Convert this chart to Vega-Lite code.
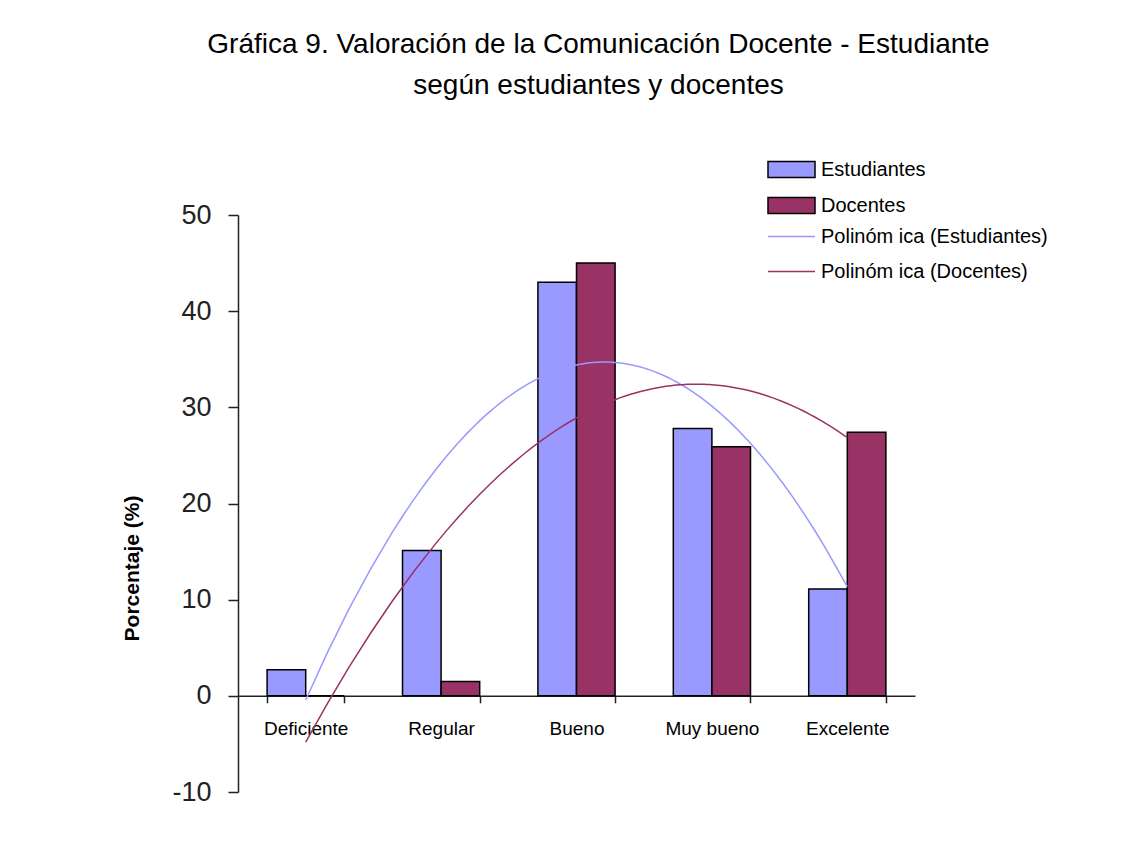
{
  "$schema": "https://vega.github.io/schema/vega-lite/v6.json",
  "width": 677,
  "height": 577,
  "autosize": {"type": "none"},
  "padding": {"left": 238, "top": 215, "right": 223, "bottom": 75},
  "background": "white",
  "config": {"view": {"stroke": null}, "font": "Liberation Sans"},
  "title": {
    "text": ["Gráfica 9. Valoración de la Comunicación Docente - Estudiante", "según  estudiantes y docentes"],
    "fontSize": 28,
    "fontWeight": "normal",
    "lineHeight": 41,
    "anchor": "middle",
    "frame": "group",
    "dx": 22,
    "offset": 45,
    "color": "black"
  },
  "data": {
    "values": [
      {"categoria": "Deficiente", "orden": 1, "serie": "Estudiantes", "tendencia": "Polinóm ica (Estudiantes)", "valor": 2.7},
      {"categoria": "Regular", "orden": 2, "serie": "Estudiantes", "tendencia": "Polinóm ica (Estudiantes)", "valor": 15.1},
      {"categoria": "Bueno", "orden": 3, "serie": "Estudiantes", "tendencia": "Polinóm ica (Estudiantes)", "valor": 43.0},
      {"categoria": "Muy bueno", "orden": 4, "serie": "Estudiantes", "tendencia": "Polinóm ica (Estudiantes)", "valor": 27.8},
      {"categoria": "Excelente", "orden": 5, "serie": "Estudiantes", "tendencia": "Polinóm ica (Estudiantes)", "valor": 11.1},
      {"categoria": "Deficiente", "orden": 1, "serie": "Docentes", "tendencia": "Polinóm ica (Docentes)", "valor": 0},
      {"categoria": "Regular", "orden": 2, "serie": "Docentes", "tendencia": "Polinóm ica (Docentes)", "valor": 1.5},
      {"categoria": "Bueno", "orden": 3, "serie": "Docentes", "tendencia": "Polinóm ica (Docentes)", "valor": 45.0},
      {"categoria": "Muy bueno", "orden": 4, "serie": "Docentes", "tendencia": "Polinóm ica (Docentes)", "valor": 25.9},
      {"categoria": "Excelente", "orden": 5, "serie": "Docentes", "tendencia": "Polinóm ica (Docentes)", "valor": 27.4}
    ]
  },
  "layer": [
    {
      "mark": {"type": "bar", "stroke": "black", "strokeWidth": 1.5},
      "encoding": {
        "x": {
          "field": "categoria",
          "type": "nominal",
          "sort": ["Deficiente", "Regular", "Bueno", "Muy bueno", "Excelente"],
          "scale": {"paddingInner": 0.43, "paddingOuter": 0.215},
          "axis": {
            "orient": "bottom",
            "offset": -96.2,
            "title": null,
            "labelAngle": 0,
            "labelFontSize": 19,
            "labelPadding": 17,
            "labelColor": "black",
            "tickBand": "extent",
            "tickSize": 7,
            "tickWidth": 1.5,
            "tickColor": "#222",
            "domainWidth": 1.5,
            "domainColor": "#222",
            "grid": false
          }
        },
        "xOffset": {
          "field": "serie",
          "type": "nominal",
          "sort": ["Estudiantes", "Docentes"],
          "scale": {"paddingInner": 0, "paddingOuter": 0}
        },
        "y": {
          "field": "valor",
          "type": "quantitative",
          "scale": {"domain": [-10, 50], "nice": false},
          "axis": {
            "values": [-10, 0, 10, 20, 30, 40, 50],
            "labelExpr": "'' + datum.value",
            "grid": false,
            "domainColor": "#222",
            "domainWidth": 1.5,
            "tickColor": "#222",
            "tickWidth": 1.5,
            "tickSize": 10,
            "labelFontSize": 27,
            "labelPadding": 17,
            "labelColor": "#222",
            "title": "Porcentaje (%)",
            "titleFontSize": 21,
            "titleFontWeight": "bold",
            "titleColor": "black",
            "titleX": -96,
            "titleY": 353,
            "titleBaseline": "bottom",
            "titleAlign": "center",
            "titleAngle": -90
          }
        },
        "fill": {
          "field": "serie",
          "type": "nominal",
          "scale": {"domain": ["Estudiantes", "Docentes"], "range": ["#9999FF", "#993366"]},
          "legend": {
            "orient": "none",
            "legendX": 529,
            "legendY": -70,
            "title": null,
            "padding": 0,
            "symbolType": "M-1,-0.34H1V0.34H-1Z",
            "symbolSize": 2209,
            "symbolStrokeColor": "black",
            "symbolStrokeWidth": 1.5,
            "symbolOpacity": 1,
            "labelFontSize": 20,
            "labelColor": "black",
            "labelOffset": 5,
            "labelLimit": 400,
            "rowPadding": -4
          }
        }
      }
    },
    {
      "transform": [
        {"regression": "valor", "on": "orden", "groupby": ["tendencia"], "method": "poly", "order": 2}
      ],
      "mark": {"type": "line", "strokeWidth": 1.5, "clip": false},
      "encoding": {
        "x": {
          "field": "orden",
          "type": "quantitative",
          "scale": {"domain": [0.5, 5.5], "nice": false, "zero": false},
          "axis": null
        },
        "y": {"field": "valor", "type": "quantitative"},
        "stroke": {
          "field": "tendencia",
          "type": "nominal",
          "scale": {"domain": ["Polinóm ica (Estudiantes)", "Polinóm ica (Docentes)"], "range": ["#9999FF", "#993366"]},
          "legend": {
            "orient": "none",
            "legendX": 529,
            "legendY": -3,
            "title": null,
            "padding": 0,
            "symbolType": "stroke",
            "symbolSize": 2209,
            "symbolStrokeWidth": 1.5,
            "labelFontSize": 20,
            "labelColor": "black",
            "labelOffset": 5,
            "labelLimit": 400,
            "rowPadding": -8
          }
        }
      }
    }
  ],
  "resolve": {"scale": {"x": "independent"}}
}
